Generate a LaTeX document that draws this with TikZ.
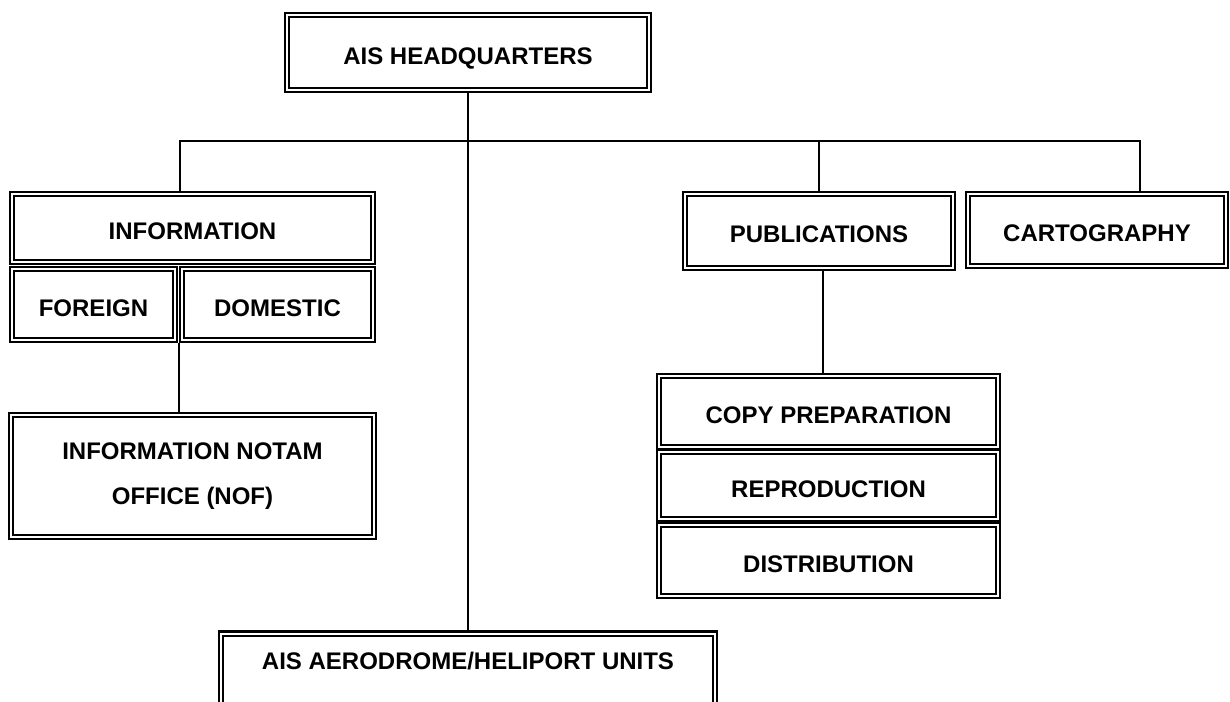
\documentclass[tikz,border=0pt]{standalone}
\usepackage{fontspec}
\setmainfont{Liberation Sans}
\begin{document}
\begin{tikzpicture}[x=1pt,y=-1pt,
  box/.style={draw=black, line width=2.6pt, fill=white, inner sep=0pt,
    font=\fontsize{24}{45}\selectfont\bfseries, align=center},
  one/.style={text height=23pt, text depth=0pt},
  inbox/.style={draw=black, line width=2pt},
  thinline/.style={draw=black, line width=1.3pt},
  midline/.style={draw=black, line width=2pt}]
\path[use as bounding box] (0,0) rectangle (1230,701);
\clip (0,0) rectangle (1230,701);
% nodes
\node[box, one, minimum width=366pt, minimum height=79pt] (hq) at (468,52.5) {AIS HEADQUARTERS};
\node[box, one, minimum width=365pt, minimum height=72pt] (info) at (192.5,228) {INFORMATION};
\node[box, one, minimum width=167pt, minimum height=75pt] (foreign) at (93.5,304.5) {FOREIGN};
\node[box, one, minimum width=195pt, minimum height=75pt] (domestic) at (277.5,304.5) {DOMESTIC};
\node[box, minimum width=367pt, minimum height=126pt] (nof) at (192.5,476) {INFORMATION NOTAM\\OFFICE (NOF)};
\node[box, one, minimum width=272pt, minimum height=78pt] (pub) at (819,231) {PUBLICATIONS};
\node[box, one, minimum width=262pt, minimum height=76pt] (carto) at (1097,230) {CARTOGRAPHY};
\node[box, one, minimum width=343pt, minimum height=75pt] (copy) at (828.5,411.5) {COPY PREPARATION};
\node[box, one, minimum width=343pt, minimum height=71pt] (repro) at (828.5,485.5) {REPRODUCTION};
\node[box, one, minimum width=343pt, minimum height=75pt] (dist) at (828.5,560.5) {DISTRIBUTION};
\node[box, anchor=north, minimum width=498pt, text height=38.6pt, text depth=40pt] (aero) at (468,630) {AIS AERODROME/HELIPORT UNITS};
% inner frames
\foreach \n in {hq,info,foreign,domestic,nof,pub,carto,copy,repro,dist,aero}
  \draw[inbox] ([xshift=5.5pt,yshift=-5.5pt]\n.north west) rectangle ([xshift=-5.5pt,yshift=5.5pt]\n.south east);
% connectors
\coordinate (busL) at (180,141);
\coordinate (busR) at (1140,141);
\coordinate (pc) at (823,0);
\draw[thinline] (hq.south) -- (aero.north);
\draw[thinline] (info.north -| busL) -- (busL) -- (busR) -- (carto.north -| busR);
\draw[thinline] (pub.north) -- (pub.north |- busL);
\draw[midline] (pub.south -| pc) -- (copy.north -| pc);
\draw[midline] (domestic.south west) -- (nof.north -| domestic.south west);
\end{tikzpicture}
\end{document}
